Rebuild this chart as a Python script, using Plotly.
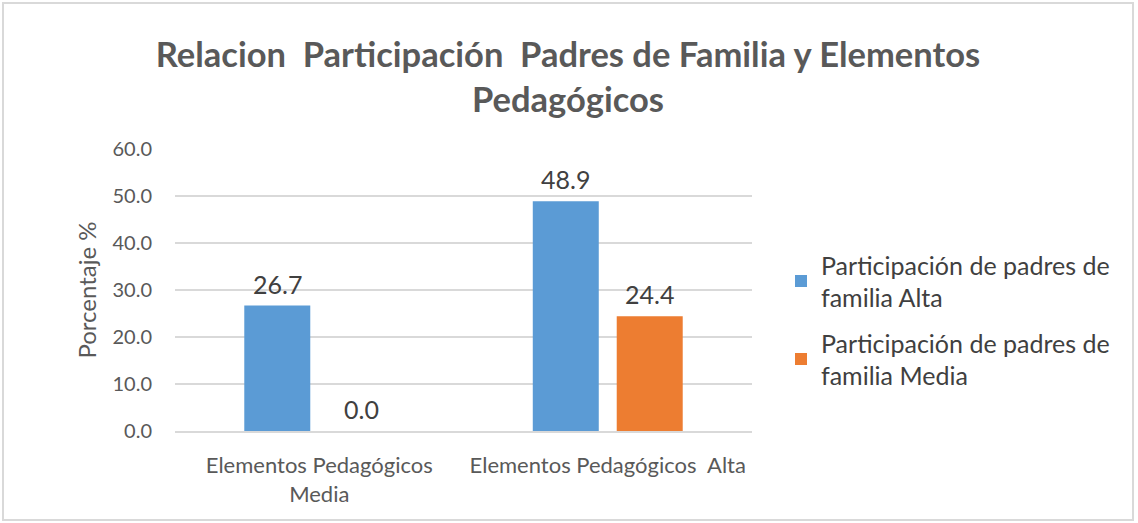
import plotly.graph_objects as go

categories = ["Elementos Pedagógicos<br>Media", "Elementos Pedagógicos  Alta"]
series_names = ["Participación de padres de<br>familia Alta", "Participación de padres de<br>familia Media"]
alta = [26.7, 48.9]
media = [0.0, 24.4]
colors = ["#5B9BD5", "#ED7D31"]
yticks = [0, 10, 20, 30, 40, 50, 60]

FONT = "Lato"

L, R, T, B = 175, 752, 149, 431
W, H = 1138, 523
pw, ph = R - L, B - T

def px(x):
    return (x - L) / pw

def py(y):
    return (B - y) / ph

fig = go.Figure()
annotations = []
slot_px = 84
for i, (name, vals, col) in enumerate(zip(series_names, [alta, media], colors)):
    fig.add_trace(go.Bar(
        x=categories, y=vals, name=name, legendgroup=f"g{i}",
        marker=dict(color=col, line=dict(width=0)),
    ))
    for j, v in enumerate(vals):
        annotations.append(dict(
            x=j, y=v, xref="x", yref="y", text=f"{v:.1f}", showarrow=False,
            xshift=(i - 0.5) * slot_px, yanchor="bottom", yshift=5,
            font=dict(family=FONT, size=25, color="#404040"),
        ))

fig.update_layout(
    width=W, height=H,
    margin=dict(l=L, r=W - R, t=T, b=H - B, pad=0),
    paper_bgcolor="white", plot_bgcolor="white",
    barmode="group", bargap=0.418, bargroupgap=0.214,
    title=dict(text="Relacion  Participación  Padres de Familia y Elementos<br>Pedagógicos",
               x=px(568), xref="paper", xanchor="center", y=1 - 67 / H, yanchor="middle",
               font=dict(family=FONT, size=34.5, color="#595959", weight="bold")),
    legend=dict(x=px(781), y=py(242), xanchor="left", yanchor="top",
                font=dict(family=FONT, size=25, color="#404040"),
                tracegroupgap=10, itemwidth=30, bgcolor="rgba(0,0,0,0)"),
    yaxis=dict(range=[0, 60], tickvals=yticks, ticktext=[f"{v:.1f}" for v in yticks],
               showgrid=True, gridcolor="#D9D9D9", gridwidth=2, zeroline=False,
               showline=False, ticks="", ticklabelstandoff=22,
               tickfont=dict(family=FONT, size=20, color="#595959"),
               title=dict(text="Porcentaje %", standoff=9,
                          font=dict(family=FONT, size=24, color="#595959"))),
    xaxis=dict(showline=True, linecolor="#D9D9D9", linewidth=2, ticks="",
               ticklabelstandoff=14,
               tickfont=dict(family=FONT, size=22, color="#595959")),
    annotations=annotations,
    shapes=[dict(type="rect", xref="paper", yref="paper",
                 x0=px(3), x1=px(1133), y0=py(520), y1=py(3),
                 line=dict(color="#D9D9D9", width=2), layer="below")],
)

fig.write_html("out.html", config={"displayModeBar": False},
               post_script="document.body.style.margin='0';")
